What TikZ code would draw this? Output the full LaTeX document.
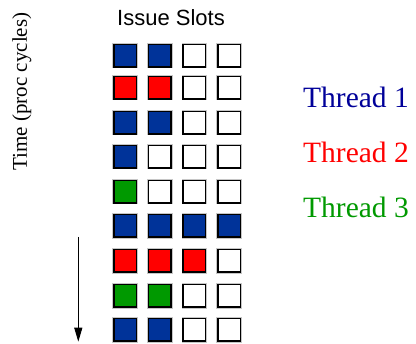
\documentclass[tikz,border=0pt]{standalone}
\usepackage{fontspec}
\setmainfont{Liberation Serif}
\newfontfamily\labelsans{Liberation Sans}
\usetikzlibrary{arrows.meta}
\definecolor{tblue}{HTML}{003399}
\definecolor{tred}{HTML}{FF0000}
\definecolor{tgreen}{HTML}{009900}
\definecolor{tnavy}{HTML}{000099}
\begin{document}
\begin{tikzpicture}[x=1pt,y=1pt,
  slot/.style={draw=black, line width=1.4pt, minimum size=22.4pt, inner sep=0pt,
    fill=white, preaction={draw=gray!45, line width=3.2pt}},
  threadlabel/.style={anchor=base west, inner sep=0pt, font=\fontsize{29.5}{32}\selectfont},
  timeaxis/.style={line width=1pt, -{Triangle[width=8pt,length=14pt]}}]
\useasboundingbox (0,0) rectangle (416,-344);

% column heading
\node[anchor=base, inner sep=0pt, font=\labelsans\fontsize{22}{26}\selectfont] (head) at (171,-26) {Issue Slots};

% issue-slot grid: one row per cycle, colour = thread owning the slot
\def\colx{{125,159.7,194.3,229}}
\foreach \r/\y/\cols in {
   1/55.7/{tblue,tblue,white,white},
   2/87.7/{tred,tred,white,white},
   3/122.7/{tblue,tblue,white,white},
   4/156.7/{tblue,white,white,white},
   5/191.7/{tgreen,white,white,white},
   6/226/{tblue,tblue,tblue,tblue},
   7/261/{tred,tred,tred,white},
   8/296/{tgreen,tgreen,white,white},
   9/330/{tblue,tblue,white,white}} {
  \foreach \c [count=\k from 0] in \cols {
    \pgfmathsetmacro\xx{\colx[\k]}
    \node[slot, fill=\c] (s-\r-\k) at (\xx,-\y) {};
  }
}

% thread legend
\node[threadlabel, text=tnavy]  (th1) at (303,-108) {Thread 1};
\node[threadlabel, text=tred]   (th2) at (303,-163) {Thread 2};
\node[threadlabel, text=tgreen] (th3) at (303,-218) {Thread 3};

% time axis
\node[rotate=90, anchor=base, inner sep=0pt, font=\fontsize{21}{24}\selectfont] (tlabel) at (27,-91.5) {Time (proc cycles)};
\coordinate (tstart) at (78.3,-237);
\coordinate (tend) at (78.3,-341.7);
\draw[timeaxis] (tstart) -- (tend);
\end{tikzpicture}
\end{document}
